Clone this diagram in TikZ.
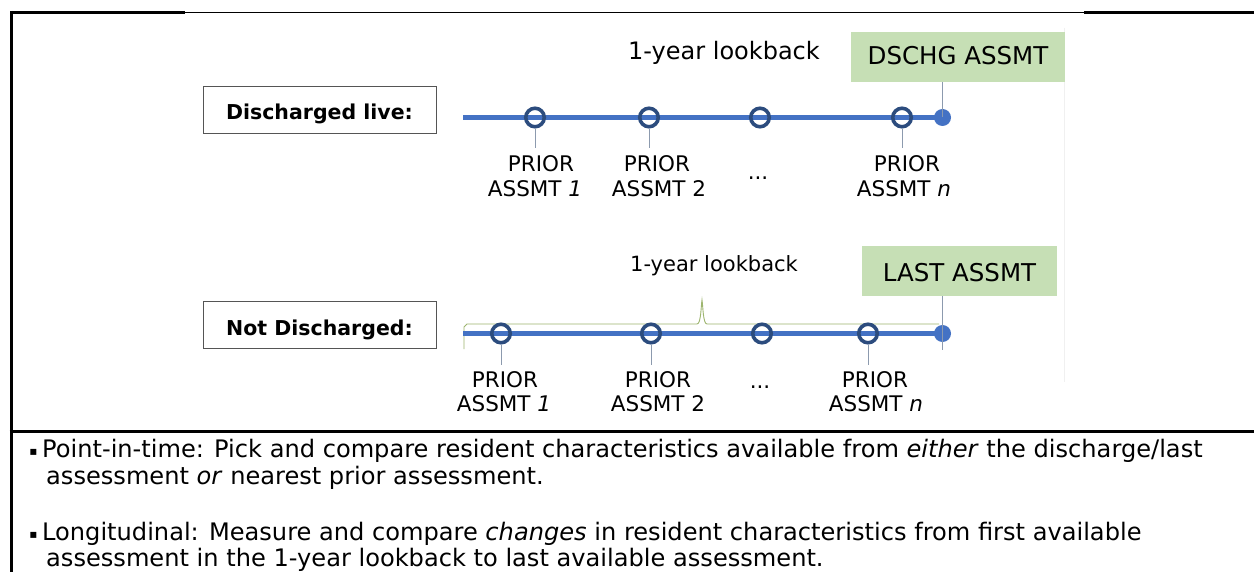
\documentclass[tikz,border=0pt]{standalone}
\usepackage{fontspec}
\setmainfont{DejaVu Sans}
\definecolor{lineblue}{HTML}{4472C4}
\definecolor{ringblue}{HTML}{2C4C7E}
\definecolor{boxgreen}{HTML}{C6DFB5}
\definecolor{tickgray}{HTML}{8C9AAE}
\definecolor{bracegreen}{HTML}{9DB56E}
\definecolor{boxedge}{HTML}{555555}
\tikzset{
  frameline/.style={line width=3pt, black},
  mainline/.style={line width=4.5pt, lineblue},
  ring/.style={circle, draw=ringblue, line width=3.6pt, minimum size=18.5pt, inner sep=0pt},
  enddot/.style={circle, fill=lineblue, minimum size=17pt, inner sep=0pt},
  tickline/.style={line width=1pt, tickgray},
  labelbox/.style={draw=boxedge, line width=1pt, fill=white, inner sep=0pt,
    font=\fontsize{20.5}{24}\selectfont\bfseries, text depth=0pt},
  greenbox/.style={fill=boxgreen, inner sep=0pt, font=\fontsize{24.5}{28}\selectfont, text depth=0pt},
  lbl/.style={inner sep=0pt, anchor=base, font=\fontsize{21.5}{25}\selectfont},
  look/.style={inner sep=0pt, anchor=base},
  bodytext/.style={inner sep=0pt, anchor=base west, font=\fontsize{24.1}{28}\selectfont},
  bulletmark/.style={inner sep=0pt, anchor=base, font=\fontsize{12}{14}\selectfont},
}
\begin{document}
\begin{tikzpicture}[x=1pt,y=-1pt]
\useasboundingbox (0,0) rectangle (1254,572);
\fill[white] (0,0) rectangle (1254,572);

% frame
\draw[frameline] (11,12.5) -- (185,12.5);
\draw[line width=1.5pt] (185,12.5) -- (1084,12.5);
\draw[frameline] (1084,12.5) -- (1254,12.5);
\draw[frameline] (11,11) -- (11,572);
\draw[frameline] (9.5,431) -- (1254,431);
\draw[gray!12, line width=1pt] (1064,28) -- (1064,382);

% ---------- upper timeline ----------
\node[labelbox, minimum width=233pt, minimum height=47pt, text height=17.6pt] (dl) at (319.5,110.5) {Discharged live:};
\node[greenbox, minimum width=214pt, minimum height=50pt, text height=16pt] (dsch) at (958,57) {DSCHG ASSMT};
\node[look, font=\fontsize{24}{28}\selectfont] (ulook) at (724,60) {1-year lookback};

\coordinate (u0) at (463,117.5);
\node[enddot] (ud) at (942.5,117.5) {};
\draw[mainline] (u0) -- (ud.center);
\node[ring] (u1) at (535,117.5) {};
\node[ring] (u2) at (649,117.5) {};
\node[ring] (u3) at (760,117.5) {};
\node[ring] (u4) at (902,117.5) {};
\draw[tickline] (u1.south) -- ++(0,19);
\draw[tickline] (u2.south) -- ++(0,19);
\draw[tickline] (u4.south) -- ++(0,19);
\draw[tickline] (dsch.south -| ud) -- (ud.center);

\node[lbl] (up1a) at (541,172) {PRIOR};
\node[lbl] (up1b) at (535,197) {ASSMT \textit{1}};
\node[lbl] (up2a) at (657,172) {PRIOR};
\node[lbl] (up2b) at (659,197) {ASSMT 2};
\node[lbl] (updots) at (758,180) {...};
\node[lbl] (up4a) at (907,172) {PRIOR};
\node[lbl] (up4b) at (904,197) {ASSMT \textit{n}};

% ---------- lower timeline ----------
\node[labelbox, minimum width=233pt, minimum height=46pt, text height=20pt] (nd) at (319.5,325) {Not Discharged:};
\node[greenbox, minimum width=195pt, minimum height=50pt, text height=21pt] (last) at (959.5,271) {LAST ASSMT};
\node[look, font=\fontsize{21}{25}\selectfont] (llook) at (714,271.7) {1-year lookback};

\draw[bracegreen, line width=0.9pt] (464,349) -- (464,327) -- (467,324) -- (697,324)
  .. controls (701,324) and (701,306) .. (702,300)
  .. controls (703,306) and (703,324) .. (707,324) -- (939,324);

\coordinate (l0) at (463,333.5);
\node[enddot] (ld) at (942.5,333.5) {};
\draw[mainline] (l0) -- (ld.center);
\node[ring] (l1) at (501,333.5) {};
\node[ring] (l2) at (651,333.5) {};
\node[ring] (l3) at (762,333.5) {};
\node[ring] (l4) at (868,333.5) {};
\draw[tickline] (l1.south) -- ++(0,20);
\draw[tickline] (l2.south) -- ++(0,20);
\draw[tickline] (l4.south) -- ++(0,20);
\draw[tickline] (last.south -| ld) -- ++(0,54);

\node[lbl] (lp1a) at (505,387) {PRIOR};
\node[lbl] (lp1b) at (504,411) {ASSMT \textit{1}};
\node[lbl] (lp2a) at (658,387) {PRIOR};
\node[lbl] (lp2b) at (658,411) {ASSMT 2};
\node[lbl] (lpdots) at (760,388) {...};
\node[lbl] (lp4a) at (875,387) {PRIOR};
\node[lbl] (lp4b) at (876,411) {ASSMT \textit{n}};

% ---------- bullet text ----------
\node[bulletmark] (b1) at (33.5,455) {▪};
\node[bodytext] (t1) at (42,457) {Point-in-time: Pick and compare resident characteristics available from \textit{either} the discharge/last};
\node[bodytext] (t2) at (46,484) {assessment \textit{or} nearest prior assessment.};
\node[bulletmark] (b2) at (33.5,538) {▪};
\node[bodytext] (t3) at (42,540) {Longitudinal: Measure and compare \textit{changes} in resident characteristics from first available};
\node[bodytext] (t4) at (46,566) {assessment in the 1-year lookback to last available assessment.};
\end{tikzpicture}
\end{document}
